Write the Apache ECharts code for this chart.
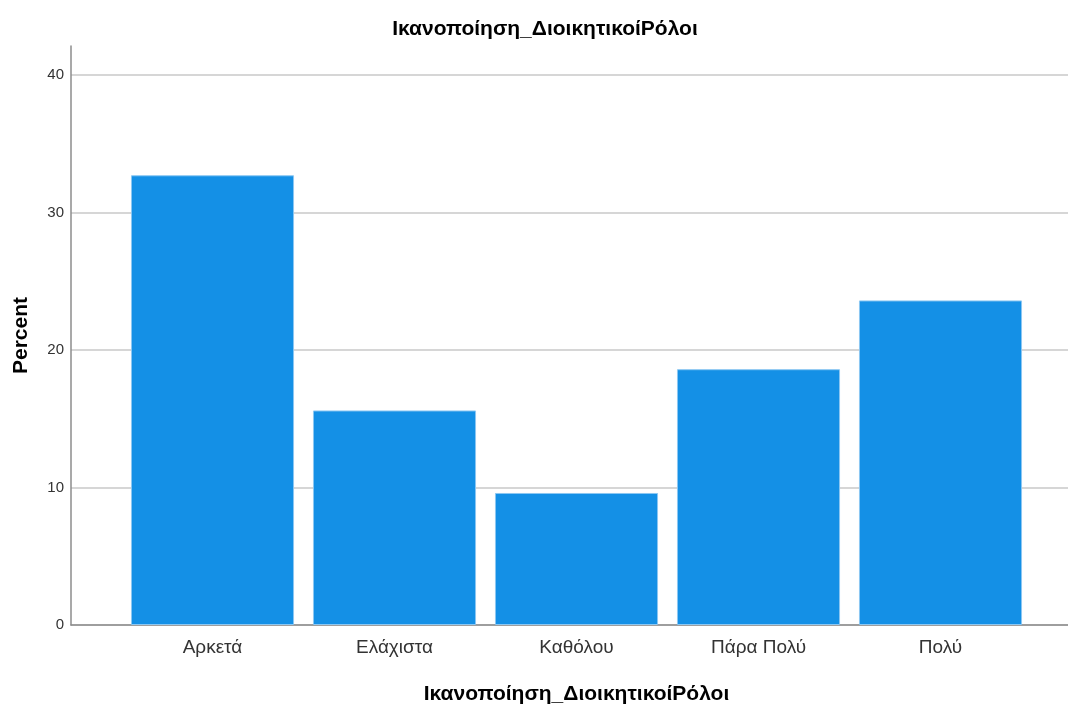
<!DOCTYPE html>
<html><head><meta charset="utf-8">
<script src="https://cdn.jsdelivr.net/npm/echarts@6/dist/echarts.min.js"></script>
<style>html,body{margin:0;padding:0;background:#fff}#c{width:1068px;height:709px}</style>
</head><body><div id="c"></div>
<script>
const categories = ['Αρκετά', 'Ελάχιστα', 'Καθόλου', 'Πάρα Πολύ', 'Πολύ'];
const percentValues = [32.7, 15.6, 9.6, 18.6, 23.6];
const yTicks = [0, 10, 20, 30, 40];
const titleText = 'Ικανοποίηση_ΔιοικητικοίΡόλοι';
const xAxisTitle = 'Ικανοποίηση_ΔιοικητικοίΡόλοι';
const yAxisTitle = 'Percent';

const yMax = 42.1;
const chart = echarts.init(document.getElementById('c'), null, {renderer: 'canvas'});
chart.setOption({
  animation: false,
  backgroundColor: '#fff',
  title: {
    text: titleText, left: 540, top: 14, textAlign: 'center',
    textStyle: {fontFamily: 'Liberation Sans', fontWeight: 'bold', fontSize: 21, color: '#000'}
  },
  grid: [
    {left: 71, right: 0, top: 46, bottom: 84, outerBoundsMode: 'none', containLabel: false},
    {left: 121.5, width: 910, top: 46, bottom: 84, outerBoundsMode: 'none', containLabel: false}
  ],
  xAxis: [
    {gridIndex: 0, type: 'value', min: 0, max: 1, axisLabel: {show: false}, axisTick: {show: false},
     splitLine: {show: false}, axisLine: {show: true, lineStyle: {color: '#8c8c8c', width: 1.5}}},
    {gridIndex: 1, type: 'category', data: categories, axisLine: {show: false}, axisTick: {show: false},
     axisLabel: {fontFamily: 'Liberation Sans', fontSize: 19, color: '#333', margin: 13},
     name: xAxisTitle, nameLocation: 'middle', nameGap: 59,
     nameTextStyle: {fontFamily: 'Liberation Sans', fontWeight: 'bold', fontSize: 21, color: '#000'}}
  ],
  yAxis: [
    {gridIndex: 0, type: 'value', min: 0, max: yMax, interval: 10,
     axisLine: {show: true, lineStyle: {color: '#8c8c8c', width: 1.5}}, axisTick: {show: false},
     axisLabel: {showMaxLabel: false, fontFamily: 'Liberation Sans', fontSize: 15, color: '#333', margin: 7,
       formatter: v => yTicks.includes(v) ? String(v) : ''},
     splitLine: {show: true, showMaxLine: false, lineStyle: {color: '#c8c8c8', width: 1.5}},
     name: yAxisTitle, nameLocation: 'middle', nameGap: 39, nameRotate: 90,
     nameTextStyle: {fontFamily: 'Liberation Sans', fontWeight: 'bold', fontSize: 21, color: '#000'}},
    {gridIndex: 1, type: 'value', min: 0, max: yMax, interval: 10, show: false, splitLine: {show: false}}
  ],
  series: [{
    type: 'bar', xAxisIndex: 1, yAxisIndex: 1, data: percentValues,
    barCategoryGap: '10.4%',
    itemStyle: {color: '#1490e6', borderColor: '#8cc7f2', borderWidth: 1}
  }]
});
</script></body></html>
